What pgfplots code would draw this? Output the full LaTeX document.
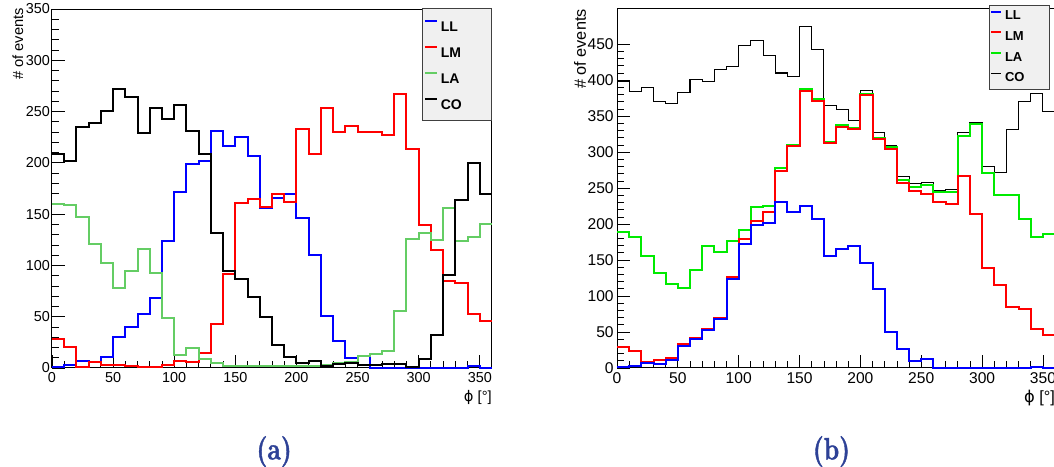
\documentclass[border=0pt]{standalone}
\usepackage{pgfplots}
\pgfplotsset{compat=1.18}
\usepackage{pgfplotstable}
\usepackage{fontspec}
\newfontfamily\arial{Liberation Sans}
\newfontfamily\dejavu{DejaVu Sans}
\newfontfamily\capfont{lmroman10-bold.otf}[FakeBold=1.6]

\definecolor{capblue}{RGB}{45,65,150}
\definecolor{lagreen}{RGB}{100,205,100}
\definecolor{lagreenb}{RGB}{0,235,0}
\definecolor{legfill}{RGB}{240,240,240}

% bin lower edges; last row repeats the last bin to close the step at 360
\pgfplotstableread{
x   LL    LM    LA    CO
0   1     28    160   209
10  3     20    159   202
20  7     1     147.5 235
30  5.5   5.5   120.5 239
40  11    3     102.7 251
50  30    3     77.6  272
60  40    2     94.8  264
70  52.6  1     115.7 229
80  68.5  1     92.3  253
90  124   3     49    243
100 172   7     12.7  256
110 198.5 6     19.8  231
120 201.7 15    8.4   209
130 231   42.5  4.5   132
140 216.7 91.6  2     95
150 224.8 160.5 2     87
160 207   164.4 2     69.5
170 155.6 157   2     50
180 166   169.6 2     22
190 170   162   1.5   11
200 146.5 232.6 1.5   5
210 110   208.6 1.5   7
220 50.7  253   3     2
230 26.3  230.3 5     4
240 9.4   236   6     5
250 12    230.3 12    3
260 0     230.3 14    3
270 0     227.4 16.6  4
280 0     267   56    4
290 0     213.5 126   1
300 0     139.4 132   9
310 0     115   125   32
320 0     85    156   91
330 0     82.5  124   164
340 1.5   52.3  128   200
350 0     46    140   170
360 0     46    140   170
}\phidata

\pgfplotsset{
  rootframe/.style={
    scale only axis,
    xmin=0, xmax=360, ymin=0,
    tick pos=left, tick align=inside,
    major tick length=10pt, minor tick length=5pt,
    minor x tick num=4, minor y tick num=4,
    xtick={0,50,...,350},
    axis line style={line width=0.75pt},
    every tick/.append style={black, line width=0.6pt},
    /pgf/number format/assume math mode=true,
    xlabel={{\dejavu ϕ} [°]}, ylabel={\# of events},
    label style={inner sep=0pt},
    xlabel style={at={(rel axis cs:1,-0.061)}, anchor=north east},
    legend cell align=left,
    clip=false,
  },
}

\begin{document}
\begin{tikzpicture}
\useasboundingbox (0,0) rectangle (790.5pt,350.25pt);

% (a) separate histograms
\begin{axis}[
    rootframe,
    at={(39pt,74.25pt)}, anchor=south west,
    width=330pt, height=269.25pt,
    ymax=350, ytick={0,50,...,350},
    ticklabel style={font=\arial\fontsize{10.8}{13}\selectfont},
    label style={font=\arial\fontsize{11}{13}\selectfont},
    yticklabel style={xshift=2pt},
    ylabel style={at={(rel axis cs:-0.0773,1.003)}, anchor=east},
    legend image code/.code={\draw[#1] (0pt,3.6pt) -- (9pt,3.6pt);},
    legend style={at={(1,1.002)}, anchor=north east, draw=black!75,
        line width=0.75pt, fill=legfill, inner xsep=1pt, inner ysep=4.5pt,
        row sep=3.8pt, font=\arial\bfseries\fontsize{10.5}{12}\selectfont},
]
\addplot[const plot mark left, blue, line width=1.5pt] table[x=x, y=LL] {\phidata};
\addlegendentry{\makebox[35pt][l]{\rule[-2.9pt]{0pt}{13.25pt}LL}}
\addplot[const plot mark left, red, line width=1.5pt] table[x=x, y=LM] {\phidata};
\addlegendentry{\makebox[35pt][l]{\rule[-2.9pt]{0pt}{13.25pt}LM}}
\addplot[const plot mark left, lagreen, line width=1.5pt] table[x=x, y=LA] {\phidata};
\addlegendentry{\makebox[35pt][l]{\rule[-2.9pt]{0pt}{13.25pt}LA}}
\addplot[const plot mark left, black, line width=1.5pt] table[x=x, y=CO] {\phidata};
\addlegendentry{\makebox[35pt][l]{\rule[-2.9pt]{0pt}{13.25pt}CO}}
\end{axis}

% (b) the same histograms stacked
\begin{axis}[
    rootframe,
    at={(462.75pt,74.25pt)}, anchor=south west,
    width=328.6pt, height=269.25pt,
    ymax=499, ytick={0,50,...,450},
    ticklabel style={font=\arial\fontsize{11.7}{14}\selectfont},
    label style={font=\arial\fontsize{12.2}{14}\selectfont},
    yticklabel style={xshift=1pt},
    ylabel style={at={(rel axis cs:-0.0845,1.0)}, anchor=east},
    stack plots=y,
    legend image code/.code={\draw[#1] (0pt,3.4pt) -- (7.5pt,3.4pt);},
    legend style={at={(0.848,1.012)}, anchor=north west, draw=black!75,
        line width=0.75pt, fill=legfill, inner xsep=1pt, inner ysep=2pt,
        row sep=3.2pt, font=\arial\bfseries\fontsize{9.75}{11}\selectfont},
]
\addplot[const plot mark left, blue, line width=1.5pt] table[x=x, y=LL] {\phidata};
\addlegendentry{\makebox[30pt][l]{\rule[-2.4pt]{0pt}{9.25pt}LL}}
\addplot[const plot mark left, red, line width=1.5pt] table[x=x, y=LM] {\phidata};
\addlegendentry{\makebox[30pt][l]{\rule[-2.4pt]{0pt}{9.25pt}LM}}
\addplot[const plot mark left, lagreenb, line width=1.5pt] table[x=x, y=LA] {\phidata};
\addlegendentry{\makebox[30pt][l]{\rule[-2.4pt]{0pt}{9.25pt}LA}}
\addplot[const plot mark left, black, line width=0.8pt] table[x=x, y=CO] {\phidata};
\addlegendentry{\makebox[30pt][l]{\rule[-2.4pt]{0pt}{9.25pt}CO}}
\end{axis}

\node[text=capblue, font=\capfont\fontsize{11}{13}\selectfont, xscale=1.65, yscale=2.1] at (205.6pt,11.5pt) {(a)};
\node[text=capblue, font=\capfont\fontsize{11}{13}\selectfont, xscale=1.65, yscale=2.1] at (623.6pt,11.5pt) {(b)};
\end{tikzpicture}
\end{document}
